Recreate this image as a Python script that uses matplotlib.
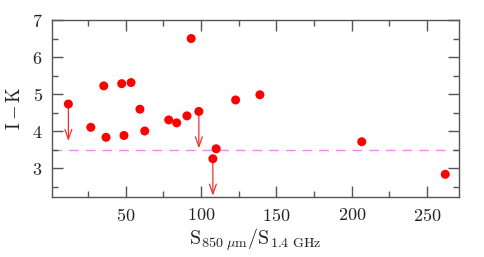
import matplotlib
matplotlib.use("Agg")
import matplotlib.pyplot as plt
from matplotlib.ticker import MultipleLocator

# S850/S1.4 ratio vs I-K colour
ratio = [11.9, 26.8, 35.4, 36.9, 47.3, 48.8, 53.5, 59.4, 62.6, 78.5,
         83.8, 90.6, 93.4, 98.5, 107.8, 110.0, 122.9, 139.0, 206.6, 262.0]
i_k = [4.73, 4.10, 5.22, 3.83, 5.28, 3.88, 5.31, 4.59, 4.00, 4.30,
       4.22, 4.41, 6.50, 4.53, 3.25, 3.52, 4.84, 4.98, 3.71, 2.83]
upper = [1, 0, 0, 0, 0, 0, 0, 0, 0, 0,
         0, 0, 0, 1, 1, 0, 0, 0, 0, 0]
ref_line = 3.5
arrow_len = 1.0

plt.rcParams['font.family'] = 'cmr10'
plt.rcParams['mathtext.fontset'] = 'cm'
plt.rcParams['axes.formatter.use_mathtext'] = True

fig = plt.figure(figsize=(4.85, 2.57), dpi=100)
ax = fig.add_axes([0.108, 0.234, 0.838, 0.688])

ax.axhline(ref_line, color='#ee88ee', lw=1.0, dashes=(7, 5), zorder=1)

for x, y, u in zip(ratio, i_k, upper):
    if u:
        ax.annotate('', xy=(x, y - arrow_len), xytext=(x, y),
                    arrowprops=dict(arrowstyle='->,head_length=0.7,head_width=0.25',
                                    color='#f03030', lw=0.9, shrinkA=0, shrinkB=0),
                    zorder=2)

ax.scatter(ratio, i_k, s=42, color='#ff0000', edgecolors='none', zorder=3)

ax.set_xlim(1.3, 271)
ax.set_ylim(2.22, 7)
ax.xaxis.set_major_locator(MultipleLocator(50))
ax.xaxis.set_minor_locator(MultipleLocator(25))
ax.yaxis.set_major_locator(MultipleLocator(1))
ax.yaxis.set_minor_locator(MultipleLocator(0.5))

grey = '#555555'
for s in ax.spines.values():
    s.set_color(grey)
    s.set_linewidth(1.0)
ax.tick_params(which='both', direction='in', top=True, right=True,
               colors=grey, labelcolor='#222222', labelsize=13)
ax.tick_params(which='major', length=8, width=1.0, pad=7)
ax.tick_params(which='minor', length=4, width=1.0)

ax.set_ylabel(r'$\mathrm{I-K}$', fontsize=13.5, color='#222222', labelpad=6)
ax.set_xlabel(r'$\mathrm{S}_{850\ \mu\mathrm{m}}/\mathrm{S}_{1.4\ \mathrm{GHz}}$',
              fontsize=14.5, color='#222222', labelpad=2)

fig.savefig('out.png', dpi=100)
